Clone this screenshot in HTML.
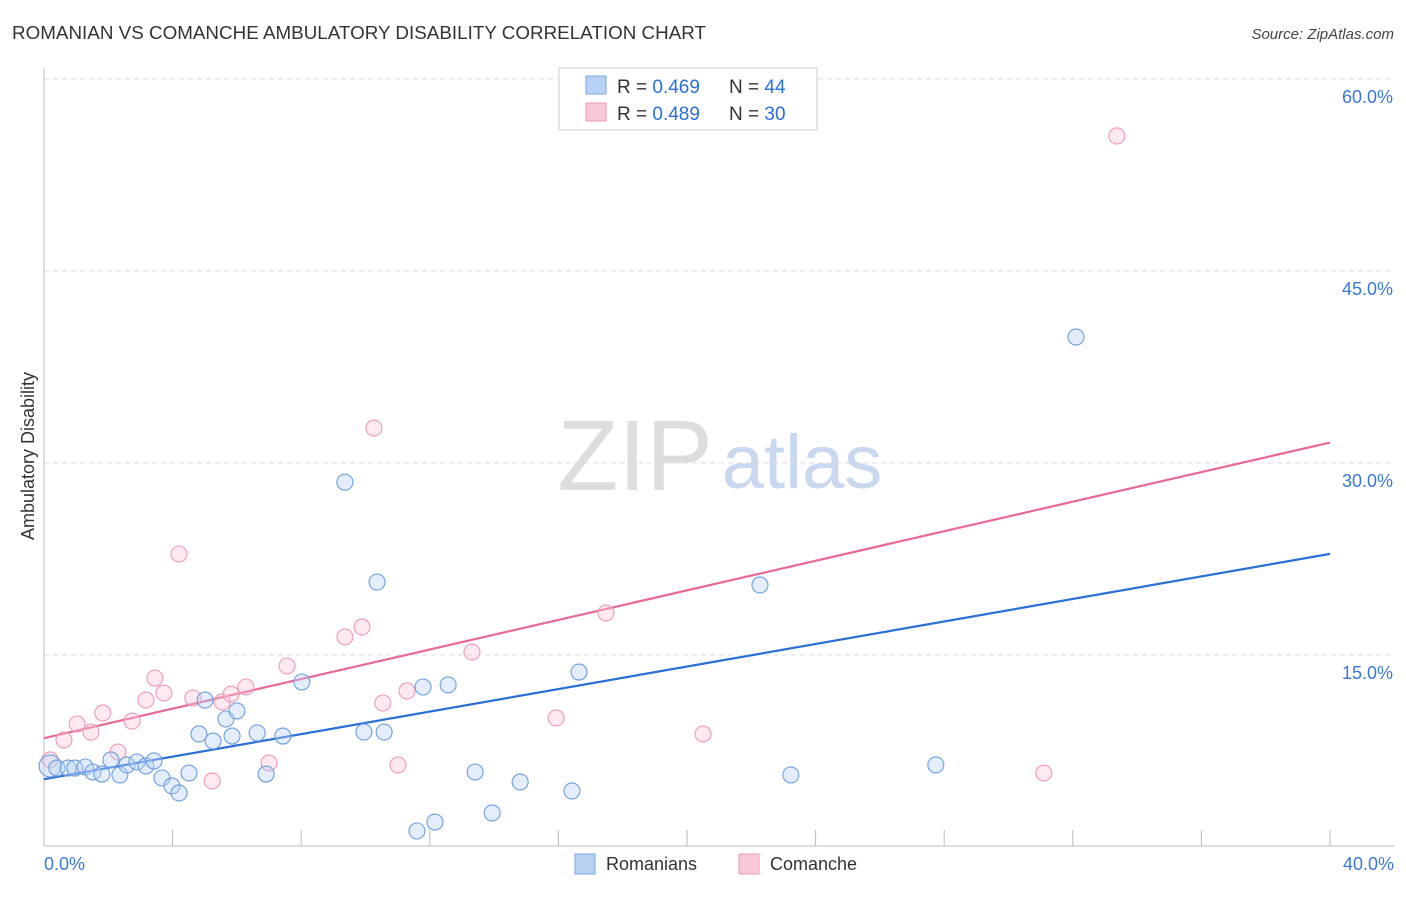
<!DOCTYPE html>
<html><head><meta charset="utf-8">
<style>
body{margin:0;background:#fff;font-family:"Liberation Sans",sans-serif;}
svg text{font-family:"Liberation Sans",sans-serif;}
</style></head>
<body>
<svg id="chart" width="1406" height="892" xmlns="http://www.w3.org/2000/svg">
<text x="12" y="39" font-size="18.8" fill="#333" textLength="694">ROMANIAN VS COMANCHE AMBULATORY DISABILITY CORRELATION CHART</text>
<text x="1394" y="39" font-size="15" fill="#444" text-anchor="end" font-style="italic">Source: ZipAtlas.com</text>
<g>
<text x="635" y="490" font-size="100" fill="#ddd" text-anchor="middle" font-family="Liberation Serif,serif">ZIP</text>
<text x="802" y="488" font-size="76" fill="#c8d8f0" text-anchor="middle">atlas</text>
</g>
<g id="grid"></g>
<g id="axes"></g>
<g id="lines"></g>
<g id="points"></g>
<text transform="translate(34,456) rotate(-90)" font-size="18" fill="#333" text-anchor="middle">Ambulatory Disability</text>
<g>
<rect x="559" y="68" width="258" height="62" fill="#fff" stroke="#ccc"/>
<rect x="586" y="76" width="20" height="18" fill="#b8d2f4" stroke="#7aa6e0"/>
<text x="617" y="93" font-size="19" fill="#333">R = <tspan fill="#2a6fd6">0.469</tspan></text>
<text x="729" y="93" font-size="19" fill="#333">N = <tspan fill="#2a6fd6">44</tspan></text>
<rect x="586" y="103" width="20" height="18" fill="#f9c8d6" stroke="#ee9ab2"/>
<text x="617" y="120" font-size="19" fill="#333">R = <tspan fill="#2a6fd6">0.489</tspan></text>
<text x="729" y="120" font-size="19" fill="#333">N = <tspan fill="#2a6fd6">30</tspan></text>
</g>
<g>
<rect x="575" y="854" width="20" height="20" fill="#b8d2f4" stroke="#7aa6e0"/>
<text x="606" y="870" font-size="18" fill="#333">Romanians</text>
<rect x="739" y="854" width="20" height="20" fill="#f9c8d6" stroke="#ee9ab2"/>
<text x="770" y="870" font-size="18" fill="#333">Comanche</text>
</g>
</svg>
<script>
const blueX=[0.19,0.40,0.75,0.96,1.28,1.52,1.80,2.08,2.36,2.58,2.89,3.17,3.42,3.67,3.98,4.20,4.51,4.82,5.01,5.26,5.66,5.85,6.00,6.63,6.91,7.43,8.02,9.36,9.95,10.36,10.58,11.60,11.79,12.16,12.57,13.41,13.94,14.81,16.42,16.64,22.27,23.23,27.74,32.1];
const blueY=[6.33,6.17,6.17,6.17,6.25,5.86,5.70,6.80,5.63,6.41,6.64,6.33,6.72,5.39,4.77,4.22,5.78,8.83,11.48,8.28,10.0,8.67,10.63,8.91,5.70,8.67,12.89,28.5,8.98,20.7,8.98,1.25,12.5,1.95,12.66,5.86,2.66,5.08,4.38,13.67,20.47,5.63,6.41,39.84];
const pinkX=[0.19,0.62,1.03,1.46,1.83,2.30,2.74,3.17,3.45,3.73,4.20,4.63,5.23,5.54,5.82,6.28,7.0,7.56,9.36,9.89,10.26,10.54,11.01,11.29,13.31,15.93,17.48,20.5,31.1,33.37];
const pinkY=[6.8,8.36,9.61,8.98,10.47,7.42,9.84,11.48,13.2,12.03,22.89,11.64,5.16,11.33,11.95,12.5,6.56,14.14,16.41,17.19,32.73,11.25,6.41,12.19,15.23,10.08,18.28,8.83,5.78,55.55];
const blueTrend=[5.3,22.9];
const pinkTrend=[8.5,31.6];
const yTicks=[15,30,45,60];
const xTickVals=[0,4,8,12,16,20,24,28,32,36,40];
const NS="http://www.w3.org/2000/svg";
const sx=v=>44+v*32.15, sy=v=>847-v*12.8;
function mk(tag,attrs,parent){const e=document.createElementNS(NS,tag);for(const k in attrs)e.setAttribute(k,attrs[k]);document.getElementById(parent).appendChild(e);return e;}
yTicks.forEach(t=>{
 const l=mk('line',{x1:44,x2:1394,y1:sy(t),y2:sy(t),stroke:'#ddd','stroke-dasharray':'5,4'},'grid');
 
 
 const tx=mk('text',{x:1393,y:sy(t)+24,'font-size':18,fill:'#3a78d8','text-anchor':'end'},'grid');
 tx.textContent=t.toFixed(1)+'%';
 
 
});
const ax=mk('line',{x1:44,x2:44,y1:68,y2:846,stroke:'#bbb'},'axes');


const bx=mk('line',{x1:44,x2:1394,y1:846,y2:846,stroke:'#bbb'},'axes');


xTickVals.forEach(t=>{
 const l=mk('line',{x1:sx(t),x2:sx(t),y1:830,y2:846,stroke:'#bbb'},'axes');
 
 
});
[[0,'0.0%','start',44],[40,'40.0%','end',1394]].forEach(a=>{
 const t=mk('text',{x:a[3],y:870,'font-size':18,fill:'#3a78d8','text-anchor':a[2]},'axes');
 t.textContent=a[1];
 
 
});
function pts(X,Y,fill,stroke,name){
 X.forEach((x,i)=>{
  const c=mk('circle',{cx:sx(x),cy:sy(Y[i]),r:i===0&&name==='romanian-point'?11:8,fill:fill,'fill-opacity':0.4,stroke:stroke,'stroke-width':1.1},'points');
  
  
 });
}
pts(pinkX,pinkY,'#f9c8d6','#ee9ab2','comanche-point');
pts(blueX,blueY,'#b8d2f4','#6c9de0','romanian-point');
const bl=mk('line',{x1:sx(0),y1:sy(blueTrend[0]),x2:sx(40),y2:sy(blueTrend[1]),stroke:'#2a6fd6','stroke-width':2.2},'lines');


const pl=mk('line',{x1:sx(0),y1:sy(pinkTrend[0]),x2:sx(40),y2:sy(pinkTrend[1]),stroke:'#e8689a','stroke-width':2.2},'lines');


</script>
</body></html>
